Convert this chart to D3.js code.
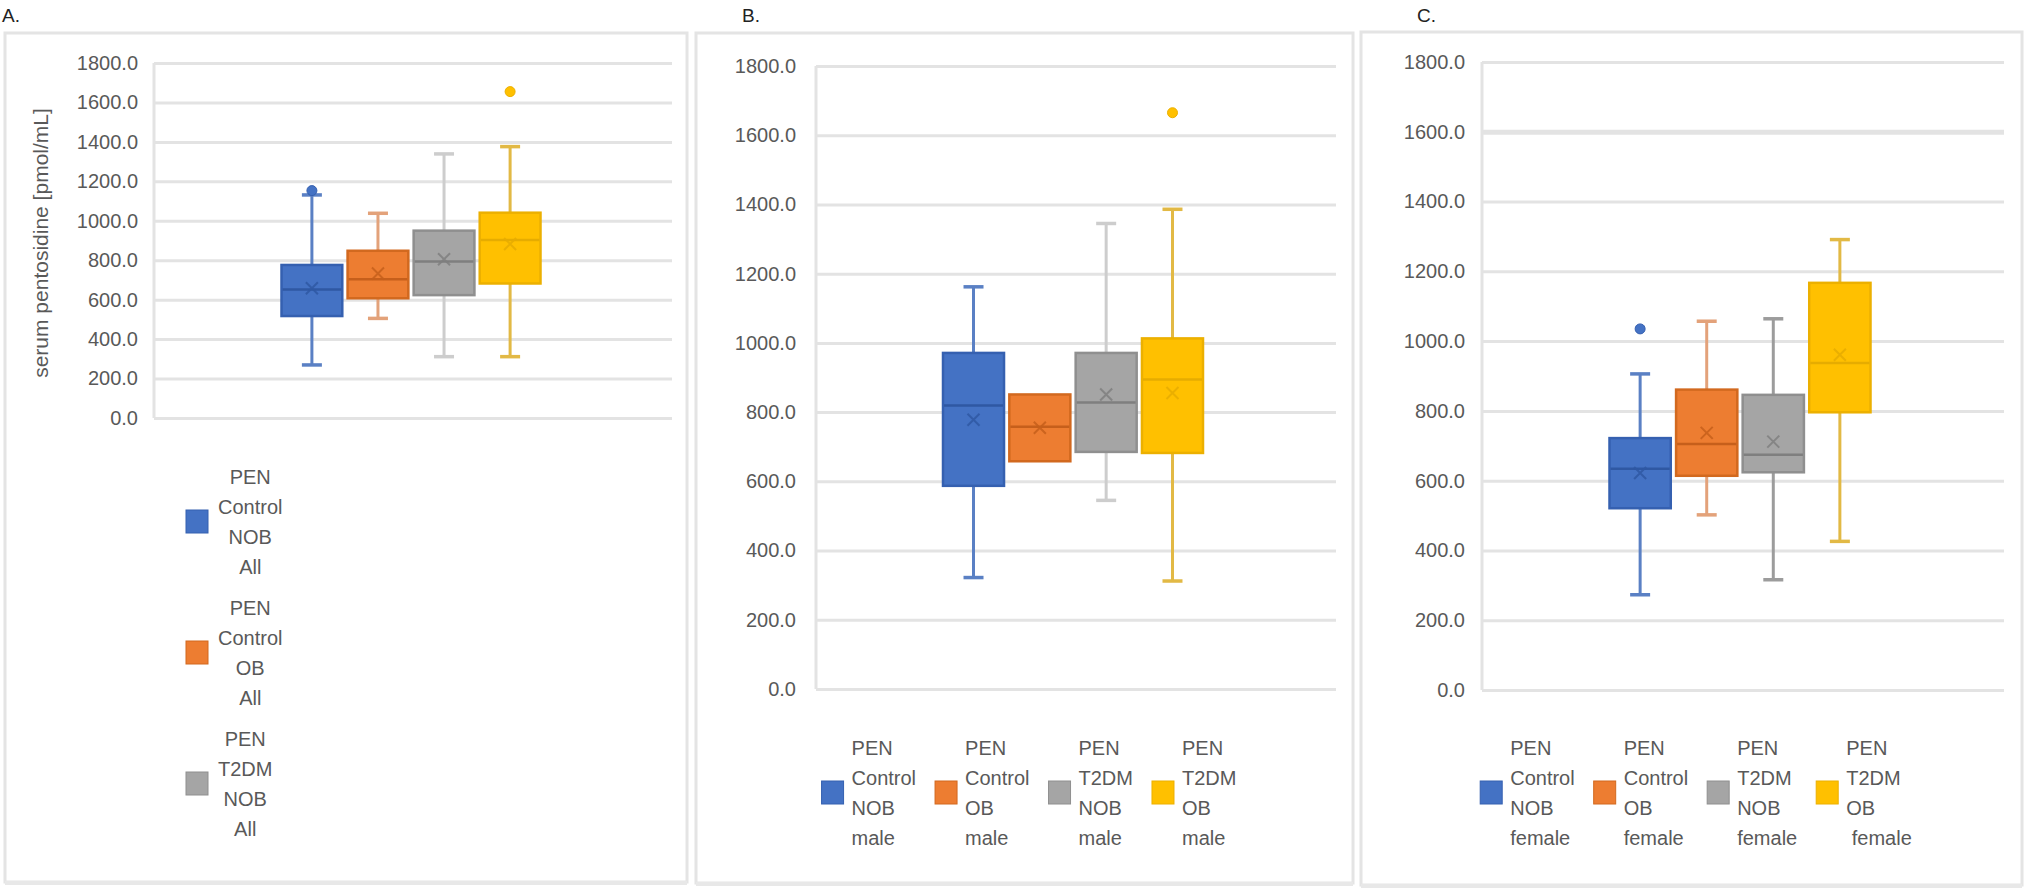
<!DOCTYPE html>
<html><head><meta charset="utf-8">
<script src="https://cdn.jsdelivr.net/npm/d3@7"></script>
<style>
body{margin:0;background:#fff;}
svg text{font-family:"Liberation Sans", Arial, sans-serif;}
</style>
</head><body>
<svg id="chart" width="2030" height="891"></svg>
<script>
// ---------- DATA ----------
const seriesKeys = ["PEN Control NOB", "PEN Control OB", "PEN T2DM NOB", "PEN T2DM OB"];
const yTicks = [0, 200, 400, 600, 800, 1000, 1200, 1400, 1600, 1800];
const yTitle = "serum pentosidine [pmol/mL]";
const panelLabels = ["A.", "B.", "C."];

// Panel A – All
const minA     = [269, 505, 311, 311];
const q1A      = [517, 607, 623, 682];
const medianA  = [652, 703, 793, 903];
const q3A      = [776, 848, 950, 1041];
const maxA     = [1131, 1038, 1339, 1376];
const meanA    = [658, 733, 805, 882];
const outliersA = [[1153], [], [], [1655]];
const legendA = [["PEN","Control","NOB","All"],["PEN","Control","OB","All"],["PEN","T2DM","NOB","All"],["PEN","T2DM","OB","All"]];

// Panel B – male
const minB     = [322, 658, 545, 312];
const q1B      = [587, 658, 685, 682];
const medianB  = [819, 758, 828, 894];
const q3B      = [971, 851, 971, 1013];
const maxB     = [1162, 851, 1345, 1386];
const meanB    = [778, 755, 851, 855];
const outliersB = [[], [], [], [1665]];
const legendB = [["PEN","Control","NOB","male"],["PEN","Control","OB","male"],["PEN","T2DM","NOB","male"],["PEN","T2DM","OB","male"]];

// Panel C – female
const minC     = [273, 502, 316, 426];
const q1C      = [521, 614, 624, 796];
const medianC  = [634, 705, 674, 937];
const q3C      = [722, 861, 846, 1167];
const maxC     = [906, 1057, 1064, 1291];
const meanC    = [622, 737, 712, 961];
const outliersC = [[1035], [], [], []];
const legendC = [["PEN","Control","NOB","female"],["PEN","Control","OB","female"],["PEN","T2DM","NOB","female"],["PEN","T2DM","OB"," female"]];

// ---------- STYLE ----------
const fillColors    = ["#4472C4", "#ED7D31", "#A5A5A5", "#FFC000"];
const borderColors  = ["#3560b0", "#d2691f", "#8f8f8f", "#ecb000"];
const medianColors  = ["#2f58a3", "#c65f1b", "#7f7f7f", "#e6ac00"];
const whiskerColors = ["#5a80c4", "#e3a27a", "#cdcdcd", "#e2b945"];
const textColor = "#595959";

const svg = d3.select("#chart");

function buildPanel(cfg) {
  const g = svg.append("g");
  // frame
  g.append("rect").attr("x", cfg.frame[0]).attr("y", cfg.frame[1])
    .attr("width", cfg.frame[2] - cfg.frame[0]).attr("height", cfg.frame[3] - cfg.frame[1])
    .attr("fill", "#fff").attr("stroke", "#e4e4e4").attr("stroke-width", 3);
  g.append("line").attr("x1", cfg.frame[0]).attr("x2", cfg.frame[2])
    .attr("y1", cfg.frame[3] + 1).attr("y2", cfg.frame[3] + 1)
    .attr("stroke", "#e8e8e8").attr("stroke-width", 4);
  // label
  svg.append("text").attr("x", cfg.labelPos[0]).attr("y", cfg.labelPos[1])
    .attr("font-size", 19).attr("fill", "#222").text(cfg.label);

  const y = d3.scaleLinear().domain([0, 1800]).range([cfg.y0, cfg.y1800]);
  const x0 = cfg.plot[0], x1 = cfg.plot[1];
  const axis = d3.axisLeft(y).tickValues(yTicks).tickFormat(d => d.toFixed(1))
    .tickSize(-(x1 - x0)).tickPadding(cfg.tickPad);
  const ag = g.append("g").attr("transform", `translate(${x0},0)`).call(axis);
  ag.select(".domain").remove();
  ag.selectAll(".tick line").attr("stroke", "#e3e3e3")
    .attr("stroke-width", d => (cfg.thickTicks && cfg.thickTicks.includes(d)) ? 5 : 3);
  ag.selectAll(".tick text").attr("fill", textColor).attr("font-size", 20)
    .attr("font-family", "'Liberation Sans', Arial, sans-serif");
  g.append("line").attr("x1", x0).attr("x2", x0).attr("y1", y(0)).attr("y2", y(1800))
    .attr("stroke", "#e3e3e3").attr("stroke-width", 3);

  // boxes
  const center = (x0 + x1) / 2 + cfg.groupShift;
  const gw = (x1 - x0) * 0.5;
  const xb = d3.scaleBand().domain(seriesKeys).range([center - gw / 2, center + gw / 2]).paddingInner(0.08);
  const bw = xb.bandwidth();
  const capW = 20;
  seriesKeys.forEach((k, i) => {
    const cx = xb(k) + bw / 2;
    const bg = g.append("g");
    if (cfg.max[i] > cfg.q3[i]) {
      bg.append("line").attr("x1", cx).attr("x2", cx).attr("y1", y(cfg.q3[i])).attr("y2", y(cfg.max[i]))
        .attr("stroke", cfg.whisker[i]).attr("stroke-width", 3);
      bg.append("line").attr("x1", cx - capW / 2).attr("x2", cx + capW / 2).attr("y1", y(cfg.max[i])).attr("y2", y(cfg.max[i]))
        .attr("stroke", cfg.whisker[i]).attr("stroke-width", 3.5);
    }
    if (cfg.min[i] < cfg.q1[i]) {
      bg.append("line").attr("x1", cx).attr("x2", cx).attr("y1", y(cfg.q1[i])).attr("y2", y(cfg.min[i]))
        .attr("stroke", cfg.whisker[i]).attr("stroke-width", 3);
      bg.append("line").attr("x1", cx - capW / 2).attr("x2", cx + capW / 2).attr("y1", y(cfg.min[i])).attr("y2", y(cfg.min[i]))
        .attr("stroke", cfg.whisker[i]).attr("stroke-width", 3.5);
    }
    bg.append("rect").attr("x", xb(k)).attr("y", y(cfg.q3[i]))
      .attr("width", bw).attr("height", y(cfg.q1[i]) - y(cfg.q3[i]))
      .attr("fill", fillColors[i]).attr("stroke", borderColors[i]).attr("stroke-width", 2.5);
    bg.append("line").attr("x1", xb(k) + 1).attr("x2", xb(k) + bw - 1)
      .attr("y1", y(cfg.median[i])).attr("y2", y(cfg.median[i]))
      .attr("stroke", medianColors[i]).attr("stroke-width", 2.5);
    const my = y(cfg.mean[i]), s = 6;
    bg.append("path").attr("d", `M${cx - s},${my - s}L${cx + s},${my + s}M${cx - s},${my + s}L${cx + s},${my - s}`)
      .attr("stroke", medianColors[i]).attr("stroke-width", 2).attr("fill", "none").attr("opacity", 0.85);
    cfg.outliers[i].forEach(v => {
      bg.append("circle").attr("cx", cx).attr("cy", y(v)).attr("r", 5)
        .attr("fill", fillColors[i]).attr("stroke", borderColors[i]).attr("stroke-width", 1);
    });
  });

  if (cfg.yTitle) {
    g.append("text").attr("transform", `translate(${cfg.yTitle[0]},${cfg.yTitle[1]}) rotate(-90)`)
      .attr("text-anchor", "middle").attr("dominant-baseline", "central")
      .attr("font-size", 21).attr("fill", textColor).text(yTitle);
  }

  // legend
  const lg = g.append("g");
  const lineH = 30, sw = 22;
  if (cfg.legendMode === "vertical") {
    cfg.legend.slice(0, cfg.legendCount).forEach((lines, i) => {
      const top = cfg.legendTop + i * cfg.legendStep;
      const ig = lg.append("g");
      const t = ig.append("text").attr("fill", textColor).attr("font-size", 20).attr("text-anchor", "middle");
      lines.forEach((ln, j) => t.append("tspan").attr("x", 0).attr("y", top + j * lineH).attr("dominant-baseline", "central").text(ln));
      const w = t.node().getBBox().width;
      t.selectAll("tspan").attr("x", cfg.legendTextLeft + w / 2);
      const midY = top + (lines.length - 1) * lineH / 2;
      ig.append("rect").attr("x", cfg.legendTextLeft - 10 - sw).attr("y", midY - sw / 2 - 1)
        .attr("width", sw).attr("height", sw + 1).attr("fill", fillColors[i]).attr("stroke", borderColors[i]).attr("stroke-width", 1);
    });
  } else {
    const items = [];
    cfg.legend.forEach((lines, i) => {
      const ig = lg.append("g");
      const t = ig.append("text").attr("fill", textColor).attr("font-size", 20).style("white-space", "pre");
      lines.forEach((ln, j) => t.append("tspan").attr("x", 0).attr("y", cfg.legendTop + j * lineH).attr("dominant-baseline", "central").text(ln));
      const w = t.node().getBBox().width;
      items.push({ig, t, w, lines});
    });
    const gapS = 8, gapI = 19;
    const total = d3.sum(items, d => sw + gapS + d.w) + gapI * (items.length - 1);
    let cx = cfg.legendCenter - total / 2;
    items.forEach((it, i) => {
      const midY = cfg.legendTop + (it.lines.length - 1) * lineH / 2;
      it.ig.append("rect").attr("x", cx).attr("y", midY - sw / 2 - 1).attr("width", sw).attr("height", sw + 1)
        .attr("fill", fillColors[i]).attr("stroke", borderColors[i]).attr("stroke-width", 1);
      it.t.selectAll("tspan").attr("x", cx + sw + gapS);
      cx += sw + gapS + it.w + gapI;
    });
  }
}

buildPanel({
  label: panelLabels[0], labelPos: [2, 22],
  frame: [5, 33, 687, 882], plot: [154, 672], y0: 418, y1800: 63, tickPad: 16, groupShift: -2,
  min: minA, q1: q1A, median: medianA, q3: q3A, max: maxA, mean: meanA, outliers: outliersA,
  whisker: whiskerColors, yTitle: [40, 243],
  legend: legendA, legendMode: "vertical", legendCount: 3, legendTop: 477, legendStep: 131, legendTextLeft: 218
});
buildPanel({
  label: panelLabels[1], labelPos: [742, 22],
  frame: [696, 33, 1353, 883], plot: [816, 1336], y0: 689, y1800: 66, tickPad: 20, groupShift: -3,
  min: minB, q1: q1B, median: medianB, q3: q3B, max: maxB, mean: meanB, outliers: outliersB,
  whisker: whiskerColors,
  legend: legendB, legendMode: "horizontal", legendTop: 748, legendCenter: 1029
});
buildPanel({
  label: panelLabels[2], labelPos: [1417, 22],
  frame: [1361, 32, 2022, 885], plot: [1482, 2004], y0: 690, y1800: 62, tickPad: 17, groupShift: -3,
  min: minC, q1: q1C, median: medianC, q3: q3C, max: maxC, mean: meanC, outliers: outliersC,
  whisker: ["#5a80c4", "#e3a27a", "#9c9c9c", "#e2b945"], thickTicks: [1600],
  legend: legendC, legendMode: "horizontal", legendTop: 748, legendCenter: 1696
});
</script>
</body></html>
